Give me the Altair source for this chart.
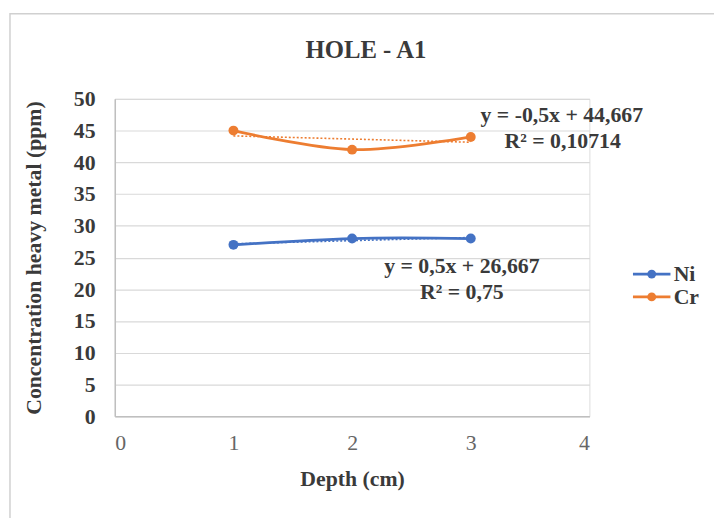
import altair as alt
import pandas as pd

# ---- data ----
depth = [1, 2, 3]
ni = [27, 28, 28]
cr = [45, 42, 44]
series_names = ["Ni", "Cr"]
colors = ["#4472C4", "#ED7D31"]

# linear trendlines (as reported on the chart)
ni_slope, ni_icpt = 0.5, 26.667
cr_slope, cr_icpt = -0.5, 44.667
ni_eq = ["y = 0,5x + 26,667", "R² = 0,75"]
cr_eq = ["y = -0,5x + 44,667", "R² = 0,10714"]

x_ticks = [0, 1, 2, 3, 4]
y_ticks = [0, 5, 10, 15, 20, 25, 30, 35, 40, 45, 50]
chart_title = "HOLE - A1"

FONT = "Liberation Serif"
TXT = "#3a3a3a"

df = pd.DataFrame({
    "depth": depth * 2,
    "value": ni + cr,
    "series": ["Ni"] * 3 + ["Cr"] * 3,
})

trend = pd.DataFrame({
    "depth": [1, 3, 1, 3],
    "value": [ni_slope * 1 + ni_icpt, ni_slope * 3 + ni_icpt,
              cr_slope * 1 + cr_icpt, cr_slope * 3 + cr_icpt],
    "series": ["Ni", "Ni", "Cr", "Cr"],
})

# label anchor positions (layout, in data units)
labels = pd.DataFrame({
    "depth": [3.767, 3.775, 2.925, 2.925],
    "value": [47.5, 43.3, 23.7, 19.5],
    "text": [cr_eq[0], cr_eq[1], ni_eq[0], ni_eq[1]],
})

# manual legend (layout, in data units)
leg_y = {"Ni": 22.4, "Cr": 18.8}
legend_line = pd.DataFrame({
    "depth": [4.367, 4.683, 4.367, 4.683],
    "value": [leg_y["Ni"], leg_y["Ni"], leg_y["Cr"], leg_y["Cr"]],
    "series": ["Ni", "Ni", "Cr", "Cr"],
})
legend_mark = pd.DataFrame({
    "depth": [4.525, 4.525],
    "value": [leg_y["Ni"], leg_y["Cr"]],
    "series": series_names,
})
legend_text = pd.DataFrame({
    "depth": [4.71, 4.71],
    "value": [leg_y["Ni"], leg_y["Cr"]],
    "series": series_names,
})

color_scale = alt.Scale(domain=series_names, range=colors)
xs = alt.Scale(domain=[0, 4], nice=False)
ys = alt.Scale(domain=[0, 50], nice=False)

X = alt.X("depth:Q", scale=xs, title="Depth (cm)",
          axis=alt.Axis(values=x_ticks, format="d", grid=False, ticks=False, domain=True,
                        domainColor="#bfbfbf", domainWidth=1.5, labelFontSize=22, labelFont=FONT,
                        labelColor="#666666", labelPadding=17, labelOverlap=False,
                        titleFont=FONT, titleFontSize=22, titleFontWeight="bold",
                        titleColor=TXT, titlePadding=15))
Y = alt.Y("value:Q", scale=ys, title="Concentration heavy metal (ppm)",
          axis=alt.Axis(values=y_ticks, grid=True, gridColor="#d9d9d9", gridWidth=1.2,
                        ticks=False, domain=True, domainColor="#bfbfbf", domainWidth=1.5,
                        labelFontSize=22, labelFont=FONT, labelFontWeight="bold",
                        labelColor=TXT, labelPadding=20, labelOverlap=False,
                        titleFont=FONT, titleFontSize=22, titleFontWeight="bold",
                        titleColor=TXT, titlePadding=28))
C = alt.Color("series:N", scale=color_scale, legend=None)

one = pd.DataFrame({"t": [chart_title]})

border = alt.Chart(one).mark_rect(
    fill=None, stroke="#d0d0d0", strokeWidth=1.5
).encode(x=alt.value(-106), x2=alt.value(640), y=alt.value(-86), y2=alt.value(440))

title = alt.Chart(one).mark_text(font=FONT, fontSize=25, fontWeight="bold", color=TXT,
                                 align="center", baseline="middle").encode(
    x=alt.value(254), y=alt.value(-49), text="t:N")

trend_lines = alt.Chart(trend).mark_line(strokeDash=[2, 2], strokeWidth=1.6).encode(
    x=X, y=Y, color=C, detail="series:N")

lines = alt.Chart(df).mark_line(interpolate="catmull-rom", strokeWidth=2.8).encode(
    x=X, y=Y, color=C)

points = alt.Chart(df).mark_point(filled=True, size=100, opacity=1).encode(
    x=X, y=Y, color=C)

eq_text = alt.Chart(labels).mark_text(font=FONT, fontSize=22, fontWeight="bold",
                                      color=TXT, align="center", baseline="middle").encode(
    x=X, y=Y, text="text:N")

leg_line = alt.Chart(legend_line).mark_line(strokeWidth=2.8).encode(
    x=X, y=Y, color=C, detail="series:N")
leg_pt = alt.Chart(legend_mark).mark_point(filled=True, size=80, opacity=1).encode(
    x=X, y=Y, color=C)
leg_txt = alt.Chart(legend_text).mark_text(font=FONT, fontSize=22, fontWeight="bold",
                                           color=TXT, align="left", baseline="middle").encode(
    x=X, y=Y, text="series:N")

chart = alt.layer(border, title, trend_lines, lines, points, eq_text,
                  leg_line, leg_pt, leg_txt).properties(
    width=480, height=321,
    autosize=alt.AutoSizeParams(type="none"),
    padding={"left": 108, "top": 89, "right": 126, "bottom": 100},
).configure_view(stroke=None).configure(background="white")

chart.save("out.html", embed_options={"renderer": "svg", "actions": False})
